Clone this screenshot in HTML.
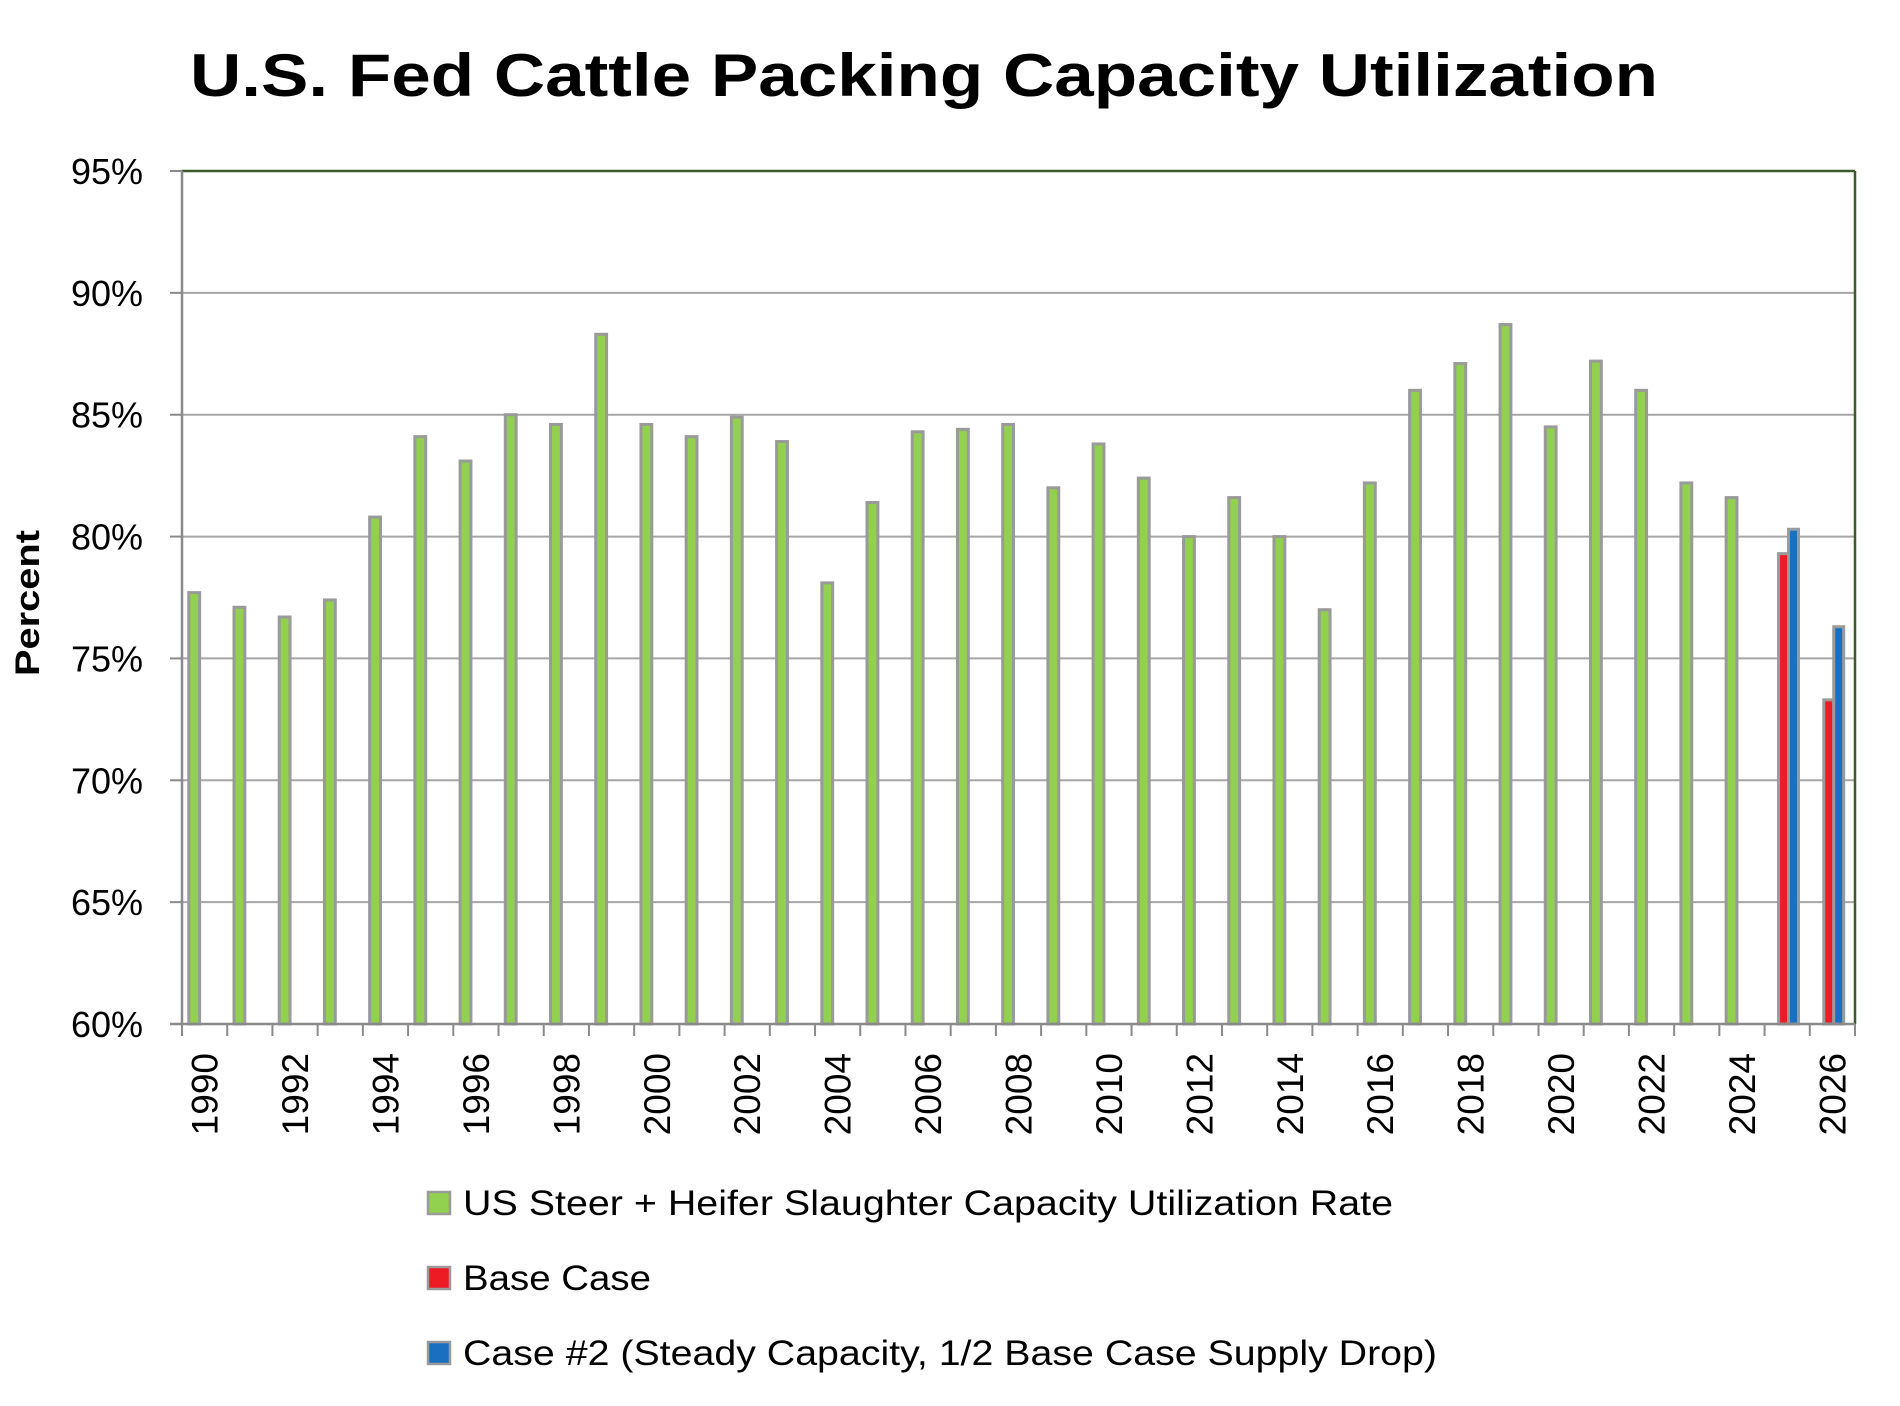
<!DOCTYPE html>
<html><head><meta charset="utf-8"><style>
html,body{margin:0;padding:0;background:#fff;}
svg{display:block;font-family:"Liberation Sans",sans-serif;}
</style></head><body>
<svg id="chart" width="1900" height="1406" viewBox="0 0 1900 1406">
<text x="924" y="96" text-anchor="middle" font-size="60" font-weight="bold" textLength="1468" lengthAdjust="spacingAndGlyphs">U.S. Fed Cattle Packing Capacity Utilization</text>
<g id="grid"></g>
<g id="bars"></g>
<g id="axes"></g>
<text transform="translate(39,603) rotate(-90)" text-anchor="middle" font-size="34" font-weight="bold" textLength="146" lengthAdjust="spacingAndGlyphs">Percent</text>
<g id="legend"></g>
</svg>
<script>
const years = [];
for (let y = 1990; y <= 2026; y++) years.push(y);
const utilization = [77.7,77.1,76.7,77.4,80.8,84.1,83.1,85.0,84.6,88.3,84.6,84.1,84.9,83.9,78.1,81.4,84.3,84.4,84.6,82.0,83.8,82.4,80.0,81.6,80.0,77.0,82.2,86.0,87.1,88.7,84.5,87.2,86.0,82.2,81.6,null,null];
const baseCase = {2025:79.3, 2026:73.3};
const case2 = {2025:80.3, 2026:76.3};
const yTicks = [60,65,70,75,80,85,90,95];

const NS = "http://www.w3.org/2000/svg";
const L = 182, R = 1855, T = 171, B = 1024;
const yMin = 60, yMax = 95;
const cw = (R - L) / years.length;
function yS(v){ return B - (v - yMin) / (yMax - yMin) * (B - T); }
function xS(i){ return L + i * cw; }
function el(tag, attrs, parent){ const e = document.createElementNS(NS, tag); for (const k in attrs) e.setAttribute(k, attrs[k]); parent.appendChild(e); return e; }

const grid = document.getElementById('grid'), bars = document.getElementById('bars'), axes = document.getElementById('axes'), legend = document.getElementById('legend');

yTicks.forEach(t => {
  const y = yS(t);
  if (t !== yMin && t !== yMax) {
    const g = el('line', {x1:L, x2:R, y1:y, y2:y, stroke:'#a6a6a6', 'stroke-width':2}, grid);
    
    
  }
  el('line', {x1:L-12, x2:L, y1:y, y2:y, stroke:'#8a8a8a', 'stroke-width':2}, axes);
  const tx = el('text', {x:143, y:y+13, 'text-anchor':'end', 'font-size':36}, axes);
  tx.textContent = t + '%';
  
  
});

function bar(i, v, f0, f1, fill, name){
  if (v == null) return;
  const x0 = xS(i) + f0 * cw, x1 = xS(i) + f1 * cw, y = yS(v);
  const r = el('rect', {x:x0, y:y, width:x1-x0, height:B-y, fill:fill, stroke:'#9a9a9a', 'stroke-width':3}, bars);
  
  
}
years.forEach((yr, i) => {
  bar(i, utilization[i], 0.15, 0.39, '#92d050', 'bar-utilization-' + yr);
  bar(i, baseCase[yr] ?? null, 0.31, 0.53, '#ed1c24', 'bar-base-case-' + yr);
  bar(i, case2[yr] ?? null, 0.53, 0.75, '#1a6fc0', 'bar-case2-' + yr);
});

el('line', {x1:L, x2:R, y1:T, y2:T, stroke:'#3d5a2e', 'stroke-width':2.5}, axes);
el('line', {x1:R, x2:R, y1:T, y2:B, stroke:'#3d5a2e', 'stroke-width':2.5}, axes);
el('line', {x1:L, x2:L, y1:T, y2:B, stroke:'#8a8a8a', 'stroke-width':2.5}, axes);
el('line', {x1:L-12, x2:R, y1:B, y2:B, stroke:'#8a8a8a', 'stroke-width':2.5}, axes);
for (let i = 0; i <= years.length; i++) {
  el('line', {x1:xS(i), x2:xS(i), y1:B, y2:B+12, stroke:'#8a8a8a', 'stroke-width':2}, axes);
}
years.forEach((yr, i) => {
  if (yr % 2 !== 0) return;
  const cx = xS(i) + cw/2;
  const t = el('text', {transform:`translate(${cx+13},1053) rotate(-90)`, 'text-anchor':'end', 'font-size':37}, axes);
  t.textContent = yr;
  
  
});

const legendItems = [
  ['US Steer + Heifer Slaughter Capacity Utilization Rate', '#92d050', 1203, 930],
  ['Base Case', '#ed1c24', 1278, 188],
  ['Case #2 (Steady Capacity, 1/2 Base Case Supply Drop)', '#1a6fc0', 1353, 974]
];
legendItems.forEach(([label, color, cy, w]) => {
  const g = el('g', {}, legend);
  
  
  el('rect', {x:428, y:cy-11, width:22, height:22, fill:color, stroke:'#9a9a9a', 'stroke-width':2.5}, g);
  const t = el('text', {x:463, y:cy+12, 'font-size':35, textLength:w, lengthAdjust:'spacingAndGlyphs'}, g);
  t.textContent = label;
});
</script>
</body></html>
